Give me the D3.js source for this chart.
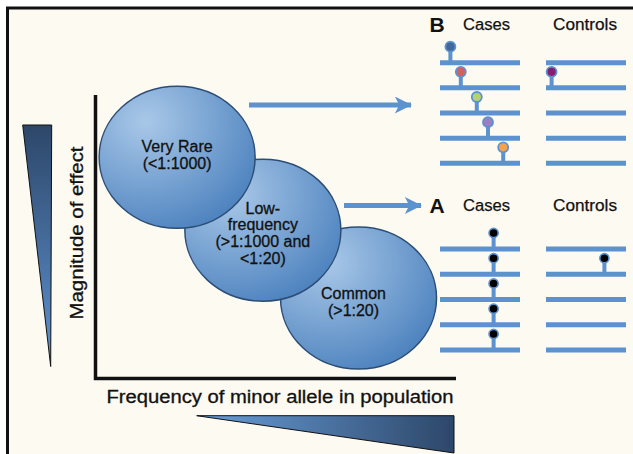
<!DOCTYPE html>
<html>
<head>
<meta charset="utf-8">
<script src="https://cdn.jsdelivr.net/npm/d3@7"></script>
<style>
  html, body { margin: 0; padding: 0; background: #fff; }
  text { font-family: "Liberation Sans", Arial, sans-serif; fill: #111; }
</style>
</head>
<body>
<svg id="chart" width="633" height="454"></svg>
<script>
// allele classes (position on frequency / effect axes, arbitrary 0-4 units)
var categories = ["Very Rare", "Low-frequency", "Common"];
var categoryLines = [["Very Rare", "(<1:1000)"], ["Low-", "frequency", "(>1:1000 and", "<1:20)"], ["Common", "(>1:20)"]];
var alleleFrequency = [0.91, 1.86, 2.92];
var effectSize = [3.12, 2.09, 1.13];

// panels: variant position along each chromosome (0-1), null = no variant
var panelNames = ["B", "A"];
var groupNames = ["Cases", "Controls"];
var rareCases = [0.13, 0.26, 0.46, 0.6, 0.79];
var rareControls = [null, 0.07, null, null, null];
var rareColors = ["#40689a", "#d9605a", "#b4d173", "#9a80c2", "#f2a34c"];
var rareControlColors = [null, "#8a1c6c", null, null, null];
var lowCases = [0.67, 0.67, 0.67, 0.67, 0.67];
var lowControls = [null, 0.73, null, null, null];

var axisLabels = ["Magnitude of effect", "Frequency of minor allele in population"];

var svg = d3.select("#chart");
var blue = "#5b92cf";

var defs = svg.append("defs");
var eg = defs.append("radialGradient").attr("id", "ellFill")
  .attr("cx", "30%").attr("cy", "25%").attr("r", "85%");
eg.append("stop").attr("offset", "0%").attr("stop-color", "#a9c8e8");
eg.append("stop").attr("offset", "100%").attr("stop-color", "#4a80bd");

var vg = defs.append("linearGradient").attr("id", "vTri").attr("x1", 0).attr("y1", 0).attr("x2", 0).attr("y2", 1);
vg.append("stop").attr("offset", "0%").attr("stop-color", "#2d4769");
vg.append("stop").attr("offset", "100%").attr("stop-color", "#5f93d2");
var hg = defs.append("linearGradient").attr("id", "hTri").attr("x1", 0).attr("y1", 0).attr("x2", 1).attr("y2", 0);
hg.append("stop").attr("offset", "0%").attr("stop-color", "#6a9fdb");
hg.append("stop").attr("offset", "100%").attr("stop-color", "#2d4769");

var ah = defs.append("marker").attr("id", "arrow").attr("viewBox", "0 0 10 10")
  .attr("refX", 9.5).attr("refY", 5).attr("markerWidth", 5.3).attr("markerHeight", 3.4)
  .attr("markerUnits", "strokeWidth").attr("orient", "auto");
ah.append("path").attr("d", "M0,0 L10,5 L0,10 L2.6,5 Z").attr("fill", blue);

// background + frame
svg.append("rect").attr("x", 8).attr("y", 8).attr("width", 640).attr("height", 460).attr("fill", "#fdfaf2");
svg.append("path").attr("d", "M7.5,460 V8 H640").attr("fill", "none").attr("stroke", "#111").attr("stroke-width", 3);

// scales for main diagram
var x = d3.scaleLinear().domain([0, 4]).range([95, 456]);
var y = d3.scaleLinear().domain([0, 4]).range([378, 95]);

// ellipses, drawn back to front
var cls = categories.map(function (c, i) {
  return { name: c, lines: categoryLines[i], f: alleleFrequency[i], e: effectSize[i] };
});
var g = svg.selectAll("g.cls").data(cls.slice().reverse()).enter().append("g").attr("class", "cls");
g.append("ellipse")
  .attr("cx", function (d) { return x(d.f); })
  .attr("cy", function (d) { return y(d.e); })
  .attr("rx", 78).attr("ry", 71)
  .attr("fill", "url(#ellFill)").attr("stroke", "#2b4d76").attr("stroke-width", 1.5);
g.each(function (d) {
  var n = d.lines.length, lh = 16.6;
  var cx = x(d.f) - (d.name == "Common" ? 5 : 0);
  var cy = y(d.e) - (d.name == "Very Rare" ? 2 : (d.name == "Common" ? -4 : -3));
  d3.select(this).selectAll("text").data(d.lines).enter().append("text")
    .attr("x", cx)
    .attr("y", function (t, k) { return cy + (k - (n - 1) / 2) * lh + 5.5; })
    .attr("text-anchor", "middle").attr("font-size", 16)
    .attr("stroke", "#111").attr("stroke-width", 0.3)
    .text(function (t) { return t; });
});

// axes
svg.append("path").attr("d", "M95.5,95 V378.5 H456").attr("fill", "none").attr("stroke", "#111").attr("stroke-width", 3.5);

svg.append("text").attr("transform", "translate(83,233) rotate(-90)")
  .attr("text-anchor", "middle").attr("font-size", 17.5)
  .attr("stroke", "#111").attr("stroke-width", 0.3)
  .attr("textLength", 173).attr("lengthAdjust", "spacingAndGlyphs")
  .text(axisLabels[0]);
svg.append("text").attr("x", 280).attr("y", 403)
  .attr("text-anchor", "middle").attr("font-size", 17.5)
  .attr("stroke", "#111").attr("stroke-width", 0.3)
  .attr("textLength", 347).attr("lengthAdjust", "spacingAndGlyphs")
  .text(axisLabels[1]);

// triangles
svg.append("path").attr("d", "M22.7,125 L51.7,125 L50.7,366.5 Z")
  .attr("fill", "url(#vTri)").attr("stroke", "#111").attr("stroke-width", 1);
svg.append("path").attr("d", "M196.7,415.7 L454,415.7 L454,453 Z")
  .attr("fill", "url(#hTri)").attr("stroke", "#111").attr("stroke-width", 1);

// arrows
svg.append("line").attr("x1", 249).attr("y1", 105).attr("x2", 411).attr("y2", 105)
  .attr("stroke", blue).attr("stroke-width", 5).attr("marker-end", "url(#arrow)");
svg.append("line").attr("x1", 344).attr("y1", 205.5).attr("x2", 421).attr("y2", 205.5)
  .attr("stroke", blue).attr("stroke-width", 5).attr("marker-end", "url(#arrow)");

// chromosome panels
var panels = [
  { name: panelNames[0], top: 62.7, bottom: 163.3, labelY: 29.5, groups: [
    { pos: rareCases, colors: rareColors, dark: false },
    { pos: rareControls, colors: rareControlColors, dark: false }] },
  { name: panelNames[1], top: 249, bottom: 350, labelY: 210.5, groups: [
    { pos: lowCases, colors: null, dark: true },
    { pos: lowControls, colors: null, dark: true }] }
];
var groupX = [440, 546];

panels.forEach(function (p) {
  var row = d3.scaleLinear().domain([0, 4]).range([p.top, p.bottom]);
  svg.append("text").attr("x", 437).attr("y", p.labelY + 2)
    .attr("text-anchor", "middle").attr("font-size", 21).attr("font-weight", "bold").text(p.name);
  p.groups.forEach(function (gr, gi) {
    var pos = d3.scaleLinear().domain([0, 1]).range([groupX[gi], groupX[gi] + 80]);
    svg.append("text").attr("x", gi == 0 ? 463 : 553).attr("y", p.labelY)
      .attr("font-size", 16).attr("stroke", "#111").attr("stroke-width", 0.25)
      .attr("textLength", gi == 0 ? 47 : 64).attr("lengthAdjust", "spacingAndGlyphs")
      .text(groupNames[gi]);
    var gg = svg.append("g");
    gg.selectAll("line.chr").data(gr.pos).enter().append("line")
      .attr("x1", pos(0)).attr("x2", pos(1))
      .attr("y1", function (d, i) { return row(i); })
      .attr("y2", function (d, i) { return row(i); })
      .attr("stroke", blue).attr("stroke-width", 5);
    var v = gr.pos.map(function (d, i) { return { p: d, i: i }; }).filter(function (d) { return d.p != null; });
    gg.selectAll("line.stem").data(v).enter().append("line")
      .attr("x1", function (d) { return pos(d.p); }).attr("x2", function (d) { return pos(d.p); })
      .attr("y1", function (d) { return row(d.i) - 16; }).attr("y2", function (d) { return row(d.i); })
      .attr("stroke", blue).attr("stroke-width", 4);
    gg.selectAll("circle").data(v).enter().append("circle")
      .attr("cx", function (d) { return pos(d.p); })
      .attr("cy", function (d) { return row(d.i) - 16; })
      .attr("r", gr.dark ? 4.6 : 5)
      .attr("fill", function (d) { return gr.dark ? "#000" : gr.colors[d.i]; })
      .attr("stroke", blue).attr("stroke-width", gr.dark ? 1.6 : 1.8);
  });
});
</script>
</body>
</html>
